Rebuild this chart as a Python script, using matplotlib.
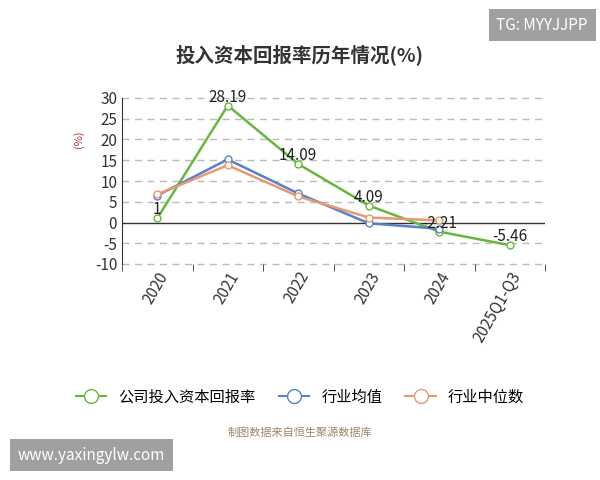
import matplotlib.pyplot as plt
from matplotlib.lines import Line2D

plt.rcParams['font.family'] = ['Noto Sans CJK SC', 'DejaVu Sans']
plt.rcParams['axes.unicode_minus'] = False

years = ["2020", "2021", "2022", "2023", "2024", "2025Q1-Q3"]
company = [1, 28.19, 14.09, 4.09, -2.21, -5.46]
industry_avg = [6.5, 15.2, 7.0, -0.2, -1.5]
industry_median = [6.8, 13.8, 6.3, 1.2, 0.5]
company_labels = ["1", "28.19", "14.09", "4.09", "-2.21", "-5.46"]

fig = plt.figure(figsize=(6, 4.8), dpi=100)
ax = fig.add_axes([122 / 600, 1 - 264 / 480, 423 / 600, 166 / 480])

x = list(range(len(years)))
ax.plot(x, company, color='#67b73e', lw=1.8, marker='o', ms=5, mfc='white', mew=1, zorder=3)
ax.plot(x[:5], industry_avg, color='#5b7fc8', lw=1.8, marker='o', ms=5, mfc='white', mew=1, zorder=3)
ax.plot(x[:5], industry_median, color='#e49a72', lw=1.8, marker='o', ms=5, mfc='white', mew=1, zorder=3)
for xi, v, t in zip(x, company, company_labels):
    ax.text(xi, v, t, ha='center', va='bottom', fontsize=11, color='#222222', zorder=4)

ax.set_xlim(-0.5, 5.5)
ax.set_ylim(-10, 30)
ax.set_yticks(range(-10, 31, 5))
ax.tick_params(axis='y', length=0, labelsize=11, colors='#333333')
ax.set_xticks(x)
ax.set_xticklabels(years, rotation=60, ha='right', rotation_mode='anchor', fontsize=11, color='#333333')
ax.set_xticks([i - 0.5 for i in range(7)], minor=True)
ax.tick_params(axis='x', which='major', length=0)
ax.tick_params(axis='x', which='minor', length=5, color='#333333')
for s in ['top', 'right', 'bottom']:
    ax.spines[s].set_visible(False)
ax.spines['left'].set_color('#333333')
ax.axhline(0, color='#333333', lw=1)
for y in range(-10, 31, 5):
    if y != 0:
        ax.axhline(y, color='#bbbbbb', lw=1, ls=(0, (5, 4)), zorder=0, clip_on=False)
ax.set_ylabel('(%)', color='#c03030', fontsize=8, rotation=90, labelpad=8)
ax.yaxis.set_label_coords(-0.09, 0.75)

fig.text(0.5, 1 - 55 / 480, '投入资本回报率历年情况(%)', ha='center', va='center', fontsize=14, fontweight='bold', color='#333333')
fig.text(0.5, 1 - 433 / 480, '制图数据来自恒生聚源数据库', ha='center', va='center', fontsize=8, color='#a0866a')

handles = [Line2D([], [], color=c, lw=1.5, marker='o', ms=10, mfc='white') for c in ['#67b73e', '#5b7fc8', '#e49a72']]
fig.legend(handles, ['公司投入资本回报率', '行业均值', '行业中位数'], loc='center', bbox_to_anchor=(0.5, 1 - 397 / 480),
           ncol=3, frameon=False, fontsize=11, handlelength=2, columnspacing=1.5)

fig.text(1 - 12 / 600, 1 - 25 / 480, 'TG: MYYJJPP', ha='right', va='center', fontsize=11, color='white',
         bbox=dict(boxstyle='square,pad=0.5', fc='#a0a0a0', ec='none'))
fig.text(18 / 600, 1 - 455 / 480, 'www.yaxingylw.com', ha='left', va='center', fontsize=11, color='white',
         bbox=dict(boxstyle='square,pad=0.5', fc='#a0a0a0', ec='none'))

fig.savefig('out.png', dpi=100)
